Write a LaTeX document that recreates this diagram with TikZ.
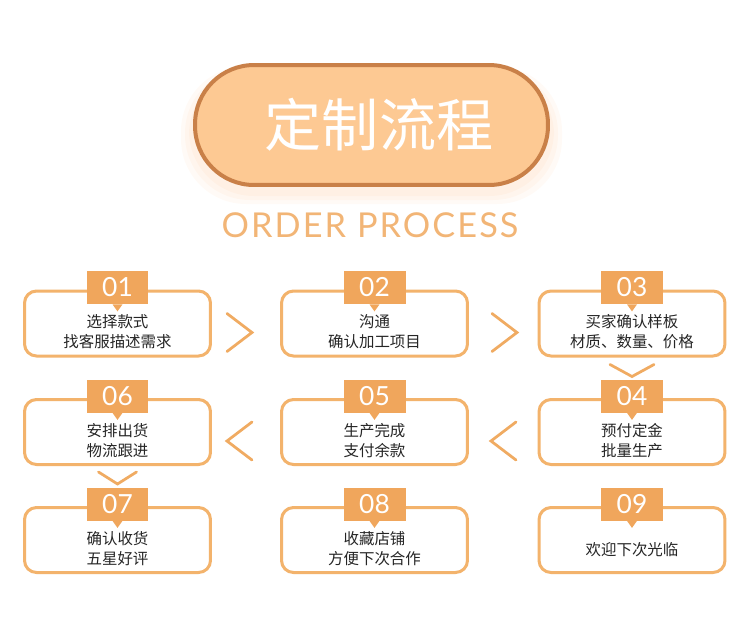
\documentclass[tikz,border=0pt]{standalone}
\usepackage{fontspec}
\setmainfont{Noto Sans CJK SC}
\newfontfamily\ordfont[LetterSpace=6]{Lato}
\newfontfamily\numfont{Lato}
\usetikzlibrary{positioning,calc}
\definecolor{pillfill}{HTML}{FDC993}
\definecolor{pillline}{HTML}{C98048}
\definecolor{tabfill}{HTML}{F0A65C}
\definecolor{boxline}{HTML}{F3B36C}
\definecolor{chevc}{HTML}{F0AB62}
\definecolor{ordc}{HTML}{F2B576}
\tikzset{
  stepbox/.style={draw=boxline, line width=0.06cm, rounded corners=0.24cm,
                  minimum width=3.72cm, minimum height=1.3cm, fill=white},
  steptab/.style={fill=tabfill, minimum width=1.24cm, minimum height=0.66cm,
                  inner sep=0, font=\numfont\fontsize{15}{15}\selectfont, text=white},
  steptext/.style={align=center, font=\fontsize{8.8}{11.4}\selectfont, text=black!85},
  chev/.style={draw=chevc, line width=0.055cm, line cap=round, line join=miter}
}
\begin{document}
\begin{tikzpicture}[x=0.02cm, y=-0.02cm]
\useasboundingbox[fill=white] (0,0) rectangle (750,623);

% title (faint glow under the pill)
\foreach \g in {14,10,6}
  \fill[orange, opacity=0.035, rounded corners=1.3cm]
    (195-\g,72-\g*0.4) rectangle (548+\g,190+\g);
\node[draw=pillline, fill=pillfill, line width=0.08cm, rounded corners=1.18cm,
      minimum width=7.06cm, minimum height=2.4cm]
  (title) at (371.5,125) {};
\node[text=white, font=\fontsize{32.5}{32.5}\selectfont] (titletxt) at (379,125) {定制流程};
\node[text=ordc, font=\ordfont\fontsize{19.5}{19.5}\selectfont] (order) at (370,225) {ORDER PROCESS};

% step boxes
\foreach \n/\x/\y in {01/117.5/323.5, 02/374.5/323.5, 03/632/323.5,
                      06/117.5/432,   05/374.5/432,   04/632/432,
                      07/117.5/540,   08/374.5/540,   09/632/540}
{
  \node[stepbox] (s\n) at (\x,\y) {};
  \node[steptab] (t\n) at ($(s\n.north)+(0,-2)$) {\n};
  \fill[tabfill] ($(t\n.south)+(-5,0)$) -- ++(10,0) -- ++(-5,7) -- cycle;
}

% step texts
\foreach \n/\txt in {01/{选择款式\\找客服描述需求}, 02/{沟通\\确认加工项目},
                     03/{买家确认样板\\材质、数量、价格}, 04/{预付定金\\批量生产},
                     05/{生产完成\\支付余款}, 06/{安排出货\\物流跟进},
                     07/{确认收货\\五星好评}, 08/{收藏店铺\\方便下次合作}}
  \node[steptext] (l\n) at ($(s\n.center)+(0,8.5)$) {\txt};
\node[steptext] (l09) at ($(s09.center)+(0,10)$) {欢迎下次光临};

% chevrons
\draw[chev] ($(s01.east)+(15,-10)$) -- ++(25,19) -- ++(-25,19);
\draw[chev] ($(s02.east)+(23,-10)$) -- ++(25,19) -- ++(-25,19);
\draw[chev] ($(s06.east)+(40,-10)$) -- ++(-25,19) -- ++(25,19);
\draw[chev] ($(s05.east)+(47,-10)$) -- ++(-25,19) -- ++(25,19);
\draw[chev] ($(s03.south)+(-22,7)$) -- ++(22,12) -- ++(22,-12);
\draw[chev] ($(s06.south)+(-19,6)$) -- ++(19,12) -- ++(19,-12);
\end{tikzpicture}
\end{document}
